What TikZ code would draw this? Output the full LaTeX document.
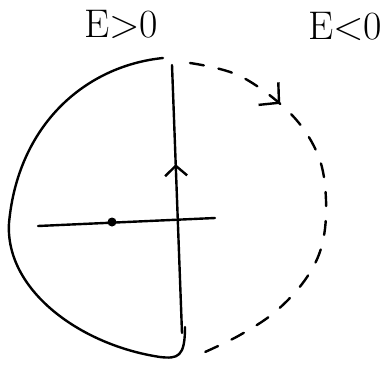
\documentclass[tikz,border=0pt]{standalone}
\usetikzlibrary{arrows.meta, decorations.markings}

\tikzset{
    barb/.tip={Straight Barb[length=10pt, width=22pt, line width=2.4pt]},
    bigbarb/.tip={Straight Barb[length=14pt, width=30pt, line width=2.4pt]}
}

\begin{document}
\begin{tikzpicture}[
    x=1pt, y=-1pt,
    curve/.style={
        line width=2.4pt,
        line cap=round,
        line join=round
    },
    label/.style={
        font=\fontsize{40}{40}\selectfont,
        inner sep=0pt
    }
]
\useasboundingbox (0,0) rectangle (387,364);

% Labels
\node[label] (pos) at (121,24) {E>0};
\node[label] (neg) at (345,26) {E<0};

% Axes
\coordinate (hleft) at (38,226);
\coordinate (hright) at (215,218);
\coordinate (vtop) at (172,65);
\coordinate (vbot) at (182,333);
\draw[curve] (hleft) -- (hright);
\draw[curve, postaction={decorate}, decoration={markings,
    mark=at position 0.63 with {\arrow{barb}}}] (vbot) -- (vtop);

% Fixed point
\node[circle, fill, inner sep=0pt, minimum size=9pt] (dot) at (112,222) {};

% E>0 orbit
\coordinate (ltop) at (163,58);
\coordinate (lend) at (185,327);
\draw[curve] (ltop) .. controls (85,66) and (18,125) .. (9,223)
    .. controls (5,290) and (80,345) .. (160,357)
    .. controls (178,359) and (185,357) .. (lend);

% E<0 orbit
\draw[curve, dash pattern=on 14pt off 15pt, postaction={decorate},
    decoration={markings,
    mark=at position 0.24 with {\arrow[solid]{bigbarb}}}]
    plot[smooth, tension=0.6] coordinates {
    (190,63) (240,76) (290,113) (318,155) (326,200) (322,245)
    (305,280) (275,312) (240,335) (205,352)};

\end{tikzpicture}
\end{document}
